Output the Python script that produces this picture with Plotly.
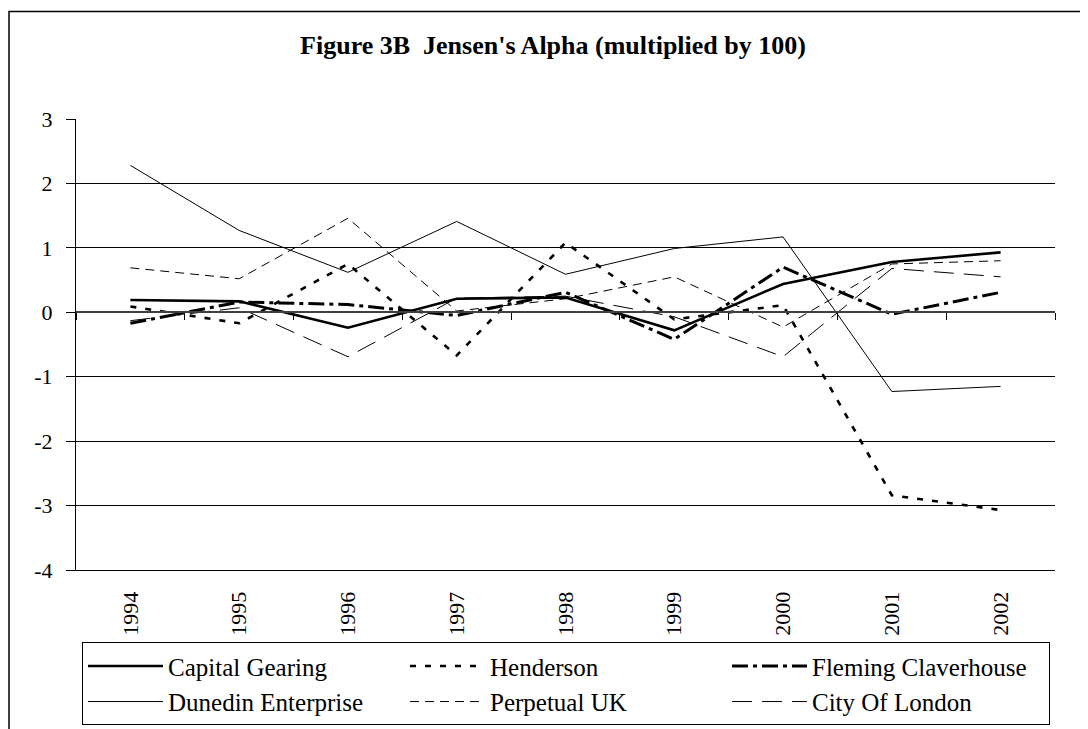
import plotly.graph_objects as go

years = ["1994", "1995", "1996", "1997", "1998", "1999", "2000", "2001", "2002"]
capital_gearing = [0.19, 0.17, -0.24, 0.21, 0.23, -0.28, 0.44, 0.78, 0.93]
henderson = [0.09, -0.17, 0.75, -0.67, 1.08, -0.11, 0.11, -2.84, -3.07]
fleming_claverhouse = [-0.17, 0.16, 0.12, -0.05, 0.31, -0.42, 0.70, -0.03, 0.31]
dunedin_enterprise = [2.28, 1.27, 0.62, 1.41, 0.59, 0.99, 1.17, -1.23, -1.15]
perpetual_uk = [0.69, 0.52, 1.46, 0.02, 0.21, 0.55, -0.23, 0.75, 0.80]
city_of_london = [-0.13, 0.07, -0.69, 0.22, 0.25, -0.07, -0.69, 0.68, 0.55]
y_ticks = [3, 2, 1, 0, -1, -2, -3, -4]

FONT = "Liberation Serif"
W, H = 1088, 729
OFF = 8  # page body offset in the browser
# target plot box in screen pixels: left 76, right 1055, top 119, bottom 572
ML, MT = 76 - OFF, 119 - OFF
MR = W - (1055 - OFF)
MB = H - (572 - OFF)
PW = W - ML - MR
PH = H - MT - MB

series = [
    ("Capital Gearing", capital_gearing, 2.6, "solid"),
    ("Henderson", henderson, 2.6, "6px,9px"),
    ("Fleming Claverhouse", fleming_claverhouse, 3, "16px,5px,4px,5px"),
    ("Dunedin Enterprise", dunedin_enterprise, 1, "solid"),
    ("Perpetual UK", perpetual_uk, 1, "9px,6px"),
    ("City Of London", city_of_london, 1, "20px,10px"),
]

fig = go.Figure()
for name, vals, w, dash in series:
    fig.add_trace(go.Scatter(
        x=years, y=vals, name=name, mode="lines",
        line=dict(color="black", width=w, dash=dash),
        xaxis="x", yaxis="y",
    ))

# invisible helper trace so the zero-crossing category axis is drawn
fig.add_trace(go.Scatter(
    x=years, y=capital_gearing, mode="lines", line=dict(width=0),
    opacity=0, showlegend=False, hoverinfo="skip", xaxis="x2", yaxis="y",
))


def px_x(sx):
    return (sx - OFF - ML) / PW


def px_y(sy):
    return (H - MB - (sy - OFF)) / PH


fig.update_layout(
    width=W, height=H,
    margin=dict(l=ML, r=MR, t=MT, b=MB, pad=0),
    paper_bgcolor="white", plot_bgcolor="white",
    font=dict(family=FONT, color="black", size=22),
    title=dict(
        text="<b>Figure 3B  Jensen's Alpha (multiplied by 100)</b>",
        font=dict(family=FONT, size=26, color="black"),
        x=(553 - OFF) / W, xref="container", xanchor="center",
        y=1 - (45 - OFF) / H, yref="container", yanchor="middle",
    ),
    xaxis=dict(
        type="category", categoryorder="array", categoryarray=years,
        range=[-0.5, len(years) - 0.5],
        showgrid=False, zeroline=False, showline=True, linecolor="black", linewidth=1,
        ticks="", tickangle=-90, ticklabelstandoff=12,
        tickfont=dict(family=FONT, size=22, color="black"),
    ),
    xaxis2=dict(
        type="category", categoryorder="array", categoryarray=years,
        range=[-0.5, len(years) - 0.5], overlaying="x",
        anchor="free", position=4 / 7, side="bottom",
        showgrid=False, zeroline=False, showline=True, linecolor="#404040", linewidth=1.5,
        ticks="outside", tickson="boundaries", ticklen=7, tickcolor="black", tickwidth=1,
        showticklabels=False,
    ),
    yaxis=dict(
        range=[-4, 3], tickvals=y_ticks, ticktext=[str(v) for v in y_ticks],
        showgrid=True, gridcolor="black", gridwidth=1,
        zeroline=False, showline=True, linecolor="black", linewidth=1,
        ticks="outside", ticklen=9, tickcolor="black",
        ticklabelstandoff=9,
        tickfont=dict(family=FONT, size=22, color="black"),
    ),
    legend=dict(
        orientation="h",
        x=px_x(82), y=px_y(728), xanchor="left", yanchor="bottom",
        xref="paper", yref="paper",
        bgcolor="white", bordercolor="black", borderwidth=1,
        font=dict(family=FONT, size=25, color="black"),
        entrywidth=232, entrywidthmode="pixels",
        itemwidth=75, tracegroupgap=0,
    ),
    showlegend=True,
    shapes=[
        dict(type="rect", xref="paper", yref="paper",
             x0=px_x(OFF + 1), x1=px_x(1110), y0=px_y(760), y1=px_y(11),
             line=dict(color="black", width=1.5), fillcolor="rgba(0,0,0,0)",
             layer="below"),
    ],
)

fig.write_html("out.html")
